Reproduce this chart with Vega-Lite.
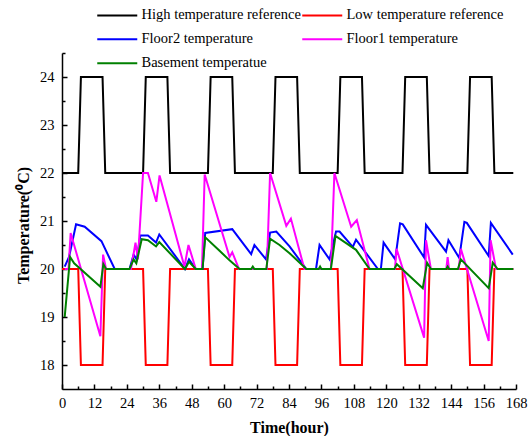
{
  "$schema": "https://vega.github.io/schema/vega-lite/v6.json",
  "width": 454,
  "height": 336,
  "autosize": "none",
  "padding": {"left": 62, "top": 53, "right": 12, "bottom": 47},
  "background": "white",
  "config": {
    "font": "Liberation Serif",
    "view": {"stroke": null},
    "axis": {"labelColor": "black", "titleColor": "black", "domainColor": "black", "tickColor": "black", "domainWidth": 1.5, "tickWidth": 1.5, "grid": false, "labelFontSize": 14.5, "titleFontSize": 16, "titleFontWeight": "bold", "labelFont": "Liberation Serif", "titleFont": "Liberation Serif"},
    "legend": {"labelFont": "Liberation Serif", "labelFontSize": 14.5, "labelColor": "black"}
  },
  "data": {"values": [
    {"s":"High temperature reference","h":0,"T":22},{"s":"High temperature reference","h":6,"T":22},{"s":"High temperature reference","h":7,"T":24},{"s":"High temperature reference","h":15,"T":24},{"s":"High temperature reference","h":16,"T":22},
    {"s":"High temperature reference","h":30,"T":22},{"s":"High temperature reference","h":31,"T":24},{"s":"High temperature reference","h":39,"T":24},{"s":"High temperature reference","h":40,"T":22},
    {"s":"High temperature reference","h":54,"T":22},{"s":"High temperature reference","h":55,"T":24},{"s":"High temperature reference","h":63,"T":24},{"s":"High temperature reference","h":64,"T":22},
    {"s":"High temperature reference","h":78,"T":22},{"s":"High temperature reference","h":79,"T":24},{"s":"High temperature reference","h":87,"T":24},{"s":"High temperature reference","h":88,"T":22},
    {"s":"High temperature reference","h":102,"T":22},{"s":"High temperature reference","h":103,"T":24},{"s":"High temperature reference","h":111,"T":24},{"s":"High temperature reference","h":112,"T":22},
    {"s":"High temperature reference","h":126,"T":22},{"s":"High temperature reference","h":127,"T":24},{"s":"High temperature reference","h":135,"T":24},{"s":"High temperature reference","h":136,"T":22},
    {"s":"High temperature reference","h":150,"T":22},{"s":"High temperature reference","h":151,"T":24},{"s":"High temperature reference","h":159,"T":24},{"s":"High temperature reference","h":160,"T":22},
    {"s":"High temperature reference","h":167,"T":22},

    {"s":"Low temperature reference","h":0,"T":20},{"s":"Low temperature reference","h":6,"T":20},{"s":"Low temperature reference","h":7,"T":18},{"s":"Low temperature reference","h":15,"T":18},{"s":"Low temperature reference","h":16,"T":20},
    {"s":"Low temperature reference","h":30,"T":20},{"s":"Low temperature reference","h":31,"T":18},{"s":"Low temperature reference","h":39,"T":18},{"s":"Low temperature reference","h":40,"T":20},
    {"s":"Low temperature reference","h":54,"T":20},{"s":"Low temperature reference","h":55,"T":18},{"s":"Low temperature reference","h":63,"T":18},{"s":"Low temperature reference","h":64,"T":20},
    {"s":"Low temperature reference","h":78,"T":20},{"s":"Low temperature reference","h":79,"T":18},{"s":"Low temperature reference","h":87,"T":18},{"s":"Low temperature reference","h":88,"T":20},
    {"s":"Low temperature reference","h":102,"T":20},{"s":"Low temperature reference","h":103,"T":18},{"s":"Low temperature reference","h":111,"T":18},{"s":"Low temperature reference","h":112,"T":20},
    {"s":"Low temperature reference","h":126,"T":20},{"s":"Low temperature reference","h":127,"T":18},{"s":"Low temperature reference","h":135,"T":18},{"s":"Low temperature reference","h":136,"T":20},
    {"s":"Low temperature reference","h":150,"T":20},{"s":"Low temperature reference","h":151,"T":18},{"s":"Low temperature reference","h":159,"T":18},{"s":"Low temperature reference","h":160,"T":20},
    {"s":"Low temperature reference","h":167,"T":20},

    {"s":"Floor2 temperature","h":1,"T":20.05},{"s":"Floor2 temperature","h":2.6,"T":20.25},{"s":"Floor2 temperature","h":5.2,"T":20.93},{"s":"Floor2 temperature","h":8.4,"T":20.88},{"s":"Floor2 temperature","h":14.6,"T":20.58},{"s":"Floor2 temperature","h":19.5,"T":20.0},
    {"s":"Floor2 temperature","h":25,"T":20.0},{"s":"Floor2 temperature","h":26.5,"T":20.3},{"s":"Floor2 temperature","h":27.6,"T":20.2},{"s":"Floor2 temperature","h":29,"T":20.7},{"s":"Floor2 temperature","h":31.8,"T":20.7},{"s":"Floor2 temperature","h":34.8,"T":20.55},{"s":"Floor2 temperature","h":36,"T":20.72},{"s":"Floor2 temperature","h":45.5,"T":20.0},{"s":"Floor2 temperature","h":47,"T":20.2},{"s":"Floor2 temperature","h":49.5,"T":20.0},
    {"s":"Floor2 temperature","h":52,"T":20.0},{"s":"Floor2 temperature","h":53,"T":20.75},{"s":"Floor2 temperature","h":63,"T":20.83},{"s":"Floor2 temperature","h":70,"T":20.31},{"s":"Floor2 temperature","h":71.2,"T":20.5},{"s":"Floor2 temperature","h":75.5,"T":20.2},
    {"s":"Floor2 temperature","h":77,"T":20.76},{"s":"Floor2 temperature","h":79.3,"T":20.78},{"s":"Floor2 temperature","h":84.2,"T":20.47},{"s":"Floor2 temperature","h":90.4,"T":20.0},{"s":"Floor2 temperature","h":94,"T":20.0},{"s":"Floor2 temperature","h":95.3,"T":20.5},{"s":"Floor2 temperature","h":99,"T":20.2},
    {"s":"Floor2 temperature","h":101.4,"T":20.78},{"s":"Floor2 temperature","h":102.7,"T":20.78},{"s":"Floor2 temperature","h":107.6,"T":20.46},{"s":"Floor2 temperature","h":108.8,"T":20.61},{"s":"Floor2 temperature","h":116.9,"T":20.0},{"s":"Floor2 temperature","h":118,"T":20.0},{"s":"Floor2 temperature","h":119,"T":20.55},{"s":"Floor2 temperature","h":123.3,"T":20.2},
    {"s":"Floor2 temperature","h":125.1,"T":20.95},{"s":"Floor2 temperature","h":126.1,"T":20.93},{"s":"Floor2 temperature","h":134,"T":20.24},{"s":"Floor2 temperature","h":134.7,"T":20.92},{"s":"Floor2 temperature","h":142.1,"T":20.36},{"s":"Floor2 temperature","h":143,"T":20.6},{"s":"Floor2 temperature","h":147,"T":20.23},
    {"s":"Floor2 temperature","h":148.9,"T":20.98},{"s":"Floor2 temperature","h":149.8,"T":20.96},{"s":"Floor2 temperature","h":157.9,"T":20.27},{"s":"Floor2 temperature","h":158.7,"T":20.96},{"s":"Floor2 temperature","h":166.8,"T":20.3},

    {"s":"Floor1 temperature","h":1,"T":20.0},{"s":"Floor1 temperature","h":2.4,"T":20.0},{"s":"Floor1 temperature","h":3.2,"T":20.75},{"s":"Floor1 temperature","h":14.2,"T":18.6},{"s":"Floor1 temperature","h":15.2,"T":20.3},{"s":"Floor1 temperature","h":16.3,"T":20.0},
    {"s":"Floor1 temperature","h":25.5,"T":20.0},{"s":"Floor1 temperature","h":26.3,"T":20.25},{"s":"Floor1 temperature","h":27.2,"T":20.55},{"s":"Floor1 temperature","h":28.1,"T":20.2},{"s":"Floor1 temperature","h":30,"T":22.0},{"s":"Floor1 temperature","h":31.8,"T":22.0},{"s":"Floor1 temperature","h":34.9,"T":21.4},{"s":"Floor1 temperature","h":36.1,"T":21.95},{"s":"Floor1 temperature","h":45.3,"T":20.05},{"s":"Floor1 temperature","h":46.8,"T":20.5},{"s":"Floor1 temperature","h":49.5,"T":20.0},
    {"s":"Floor1 temperature","h":51.8,"T":20.0},{"s":"Floor1 temperature","h":52.8,"T":21.97},{"s":"Floor1 temperature","h":62,"T":20.25},{"s":"Floor1 temperature","h":63,"T":20.35},{"s":"Floor1 temperature","h":65.5,"T":20.0},
    {"s":"Floor1 temperature","h":75.8,"T":20.0},{"s":"Floor1 temperature","h":77,"T":22.0},{"s":"Floor1 temperature","h":83,"T":20.9},{"s":"Floor1 temperature","h":84.7,"T":21.05},{"s":"Floor1 temperature","h":89.7,"T":20.0},
    {"s":"Floor1 temperature","h":99.5,"T":20.0},{"s":"Floor1 temperature","h":100.8,"T":22.0},{"s":"Floor1 temperature","h":107,"T":20.88},{"s":"Floor1 temperature","h":109.1,"T":21.02},{"s":"Floor1 temperature","h":113.8,"T":20.0},
    {"s":"Floor1 temperature","h":123.2,"T":20.0},{"s":"Floor1 temperature","h":123.8,"T":20.42},{"s":"Floor1 temperature","h":134,"T":18.57},{"s":"Floor1 temperature","h":134.7,"T":20.6},{"s":"Floor1 temperature","h":136.5,"T":20.0},{"s":"Floor1 temperature","h":142.2,"T":20.0},{"s":"Floor1 temperature","h":142.7,"T":20.25},{"s":"Floor1 temperature","h":143.2,"T":20.0},
    {"s":"Floor1 temperature","h":146.8,"T":20.0},{"s":"Floor1 temperature","h":147.6,"T":20.42},{"s":"Floor1 temperature","h":157.9,"T":18.5},{"s":"Floor1 temperature","h":158.6,"T":20.6},{"s":"Floor1 temperature","h":160.6,"T":20.0},{"s":"Floor1 temperature","h":167,"T":20.0},

    {"s":"Basement temperatue","h":1,"T":19.0},{"s":"Basement temperatue","h":3,"T":20.25},{"s":"Basement temperatue","h":4.5,"T":20.12},{"s":"Basement temperatue","h":14.2,"T":19.63},{"s":"Basement temperatue","h":15.3,"T":20.1},{"s":"Basement temperatue","h":16.3,"T":20.0},
    {"s":"Basement temperatue","h":25,"T":20.0},{"s":"Basement temperatue","h":26.5,"T":20.2},{"s":"Basement temperatue","h":27.5,"T":20.12},{"s":"Basement temperatue","h":29.5,"T":20.62},{"s":"Basement temperatue","h":31.8,"T":20.6},{"s":"Basement temperatue","h":34.8,"T":20.47},{"s":"Basement temperatue","h":36,"T":20.56},{"s":"Basement temperatue","h":45.5,"T":20.0},{"s":"Basement temperatue","h":47,"T":20.15},{"s":"Basement temperatue","h":49.5,"T":20.0},
    {"s":"Basement temperatue","h":52,"T":20.0},{"s":"Basement temperatue","h":53,"T":20.66},{"s":"Basement temperatue","h":58.3,"T":20.38},{"s":"Basement temperatue","h":62,"T":20.18},{"s":"Basement temperatue","h":65.7,"T":20.0},{"s":"Basement temperatue","h":70,"T":20.0},{"s":"Basement temperatue","h":70.6,"T":20.05},{"s":"Basement temperatue","h":71.2,"T":20.0},
    {"s":"Basement temperatue","h":75.6,"T":20.0},{"s":"Basement temperatue","h":77,"T":20.63},{"s":"Basement temperatue","h":80.5,"T":20.5},{"s":"Basement temperatue","h":84.2,"T":20.33},{"s":"Basement temperatue","h":90.4,"T":20.0},{"s":"Basement temperatue","h":95,"T":20.0},{"s":"Basement temperatue","h":95.5,"T":20.05},{"s":"Basement temperatue","h":96,"T":20.0},
    {"s":"Basement temperatue","h":99.5,"T":20.0},{"s":"Basement temperatue","h":101.2,"T":20.69},{"s":"Basement temperatue","h":108.8,"T":20.4},{"s":"Basement temperatue","h":113.8,"T":20.0},{"s":"Basement temperatue","h":123,"T":20.0},{"s":"Basement temperatue","h":123.9,"T":20.1},{"s":"Basement temperatue","h":133.5,"T":19.6},{"s":"Basement temperatue","h":135.1,"T":20.13},{"s":"Basement temperatue","h":136.5,"T":20.0},
    {"s":"Basement temperatue","h":142.2,"T":20.0},{"s":"Basement temperatue","h":142.7,"T":20.05},{"s":"Basement temperatue","h":143.2,"T":20.0},{"s":"Basement temperatue","h":146.5,"T":20.0},{"s":"Basement temperatue","h":147.6,"T":20.2},{"s":"Basement temperatue","h":157.9,"T":19.6},{"s":"Basement temperatue","h":159.4,"T":20.13},{"s":"Basement temperatue","h":161.2,"T":20.0},{"s":"Basement temperatue","h":167,"T":20.0}
  ]},
  "mark": {"type": "line", "strokeWidth": 2, "clip": true},
  "encoding": {
    "x": {
      "field": "h", "type": "quantitative",
      "scale": {"domain": [0, 168], "nice": false, "zero": false},
      "axis": {
        "title": "Time(hour)",
        "values": [0,6,12,18,24,30,36,42,48,54,60,66,72,78,84,90,96,102,108,114,120,126,132,138,144,150,156,162,168],
        "format": ".0f",
        "labelExpr": "datum.value % 12 === 0 ? datum.label : ''",
        "tickSize": {"condition": {"test": "datum.value % 12 === 0", "value": -5}, "value": -3},
        "labelPadding": 12,
        "labelFlush": false,
        "labelFont": "Liberation Serif",
        "titleBaseline": "middle",
        "titleY": 38
      }
    },
    "y": {
      "field": "T", "type": "quantitative",
      "scale": {"domain": [17.5, 24.5], "nice": false, "zero": false},
      "axis": {
        "title": "Temperature(⁰C)",
        "values": [18,18.5,19,19.5,20,20.5,21,21.5,22,22.5,23,23.5,24,24.5],
        "format": ".0f",
        "labelExpr": "datum.value % 1 === 0 ? datum.label : ''",
        "tickSize": {"condition": {"test": "datum.value % 1 === 0", "value": -5}, "value": -3},
        "labelPadding": 13,
        "labelFlush": false,
        "labelFont": "Liberation Serif",
        "titleAngle": -90,
        "titleBaseline": "middle",
        "titleAlign": "center",
        "titleX": -39,
        "titleY": 172
      }
    },
    "color": {
      "field": "s", "type": "nominal",
      "scale": {
        "domain": ["High temperature reference", "Low temperature reference", "Floor2 temperature", "Floor1 temperature", "Basement temperatue"],
        "range": ["#000000", "#ff0000", "#0000ff", "#ff00ff", "#008000"]
      },
      "legend": {
        "title": null,
        "orient": "none",
        "direction": "horizontal",
        "legendX": 48,
        "legendY": -45,
        "columns": 2,
        "symbolType": "M-20,0H20",
        "symbolSize": 4,
        "symbolStrokeWidth": 2,
        "labelOffset": 17,
        "labelFont": "Liberation Serif",
        "labelFontSize": 14.5,
        "rowPadding": 9,
        "columnPadding": -3,
        "padding": 0
      }
    }
  }
}
